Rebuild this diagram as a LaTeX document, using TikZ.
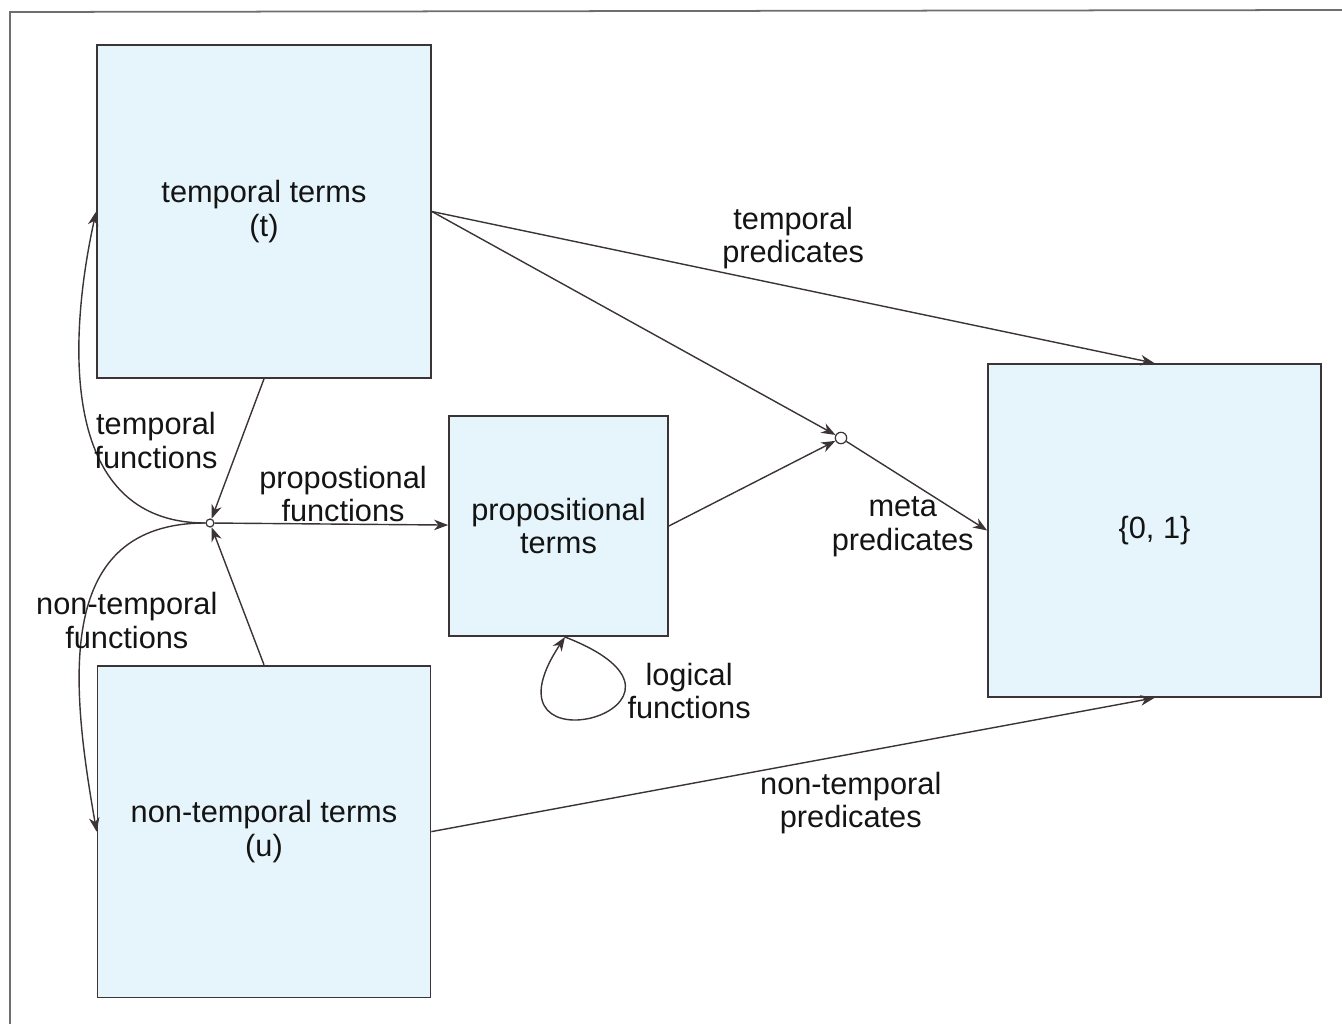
\documentclass[tikz,border=0pt]{standalone}
\usepackage{fontspec}
\setmainfont{Liberation Sans}
\usetikzlibrary{arrows.meta}
\usetikzlibrary{positioning,shapes}

\definecolor{boxfill}{RGB}{230,245,252}
\definecolor{linegray}{RGB}{60,52,52}
\definecolor{framegray}{RGB}{110,110,110}

\begin{document}
\begin{tikzpicture} [->,>={Stealth[length=8pt,width=6pt,inset=2.5pt]},x=0.02cm,y=-0.02cm,line width=0.8pt,
  font=\fontsize{17.5}{19}\selectfont,
  termbox/.style={rectangle, draw=linegray, line width=1pt, fill=boxfill, align=center, text=black!92},
  junction/.style={circle, draw=linegray, fill=white, inner sep=0pt, line width=0.7pt},
  every edge/.style={draw=linegray},
  lbl/.style={align=center, inner sep=1pt, text=black!92}]

  \useasboundingbox (0,0) rectangle (1342,1024);
  \draw[-, framegray, line width=1pt] (10,1024) -- (10,12) -- (1342,10);

  \node[termbox] (1) [minimum width=66.8mm, minimum height=66.6mm] at (264,211.5) {temporal terms\\(t)};
  \node[termbox] (2) [minimum width=66.6mm, minimum height=66.4mm, below=57.2mm of 1] {non-temporal terms\\(u)};
  \node[termbox] (3) [minimum width=43.8mm, minimum height=44mm] at (558.5,526) {propositional\\terms};
  \node[termbox] (4) [minimum width=66.6mm, minimum height=66.6mm] at (1154.5,530.5) {\{0, 1\}};

  \node[junction, minimum size=4.5pt] (5) at (210,523) {};
  \node[junction, minimum size=6.5pt] (6) at (841,438) {};

  \path
    (1.south) edge (5)
    (2.north) edge (5)
    (5) edge node [lbl, pos=0.55, above] {propostional\\functions} (3)
    (1.east) edge node [lbl, pos=0.5, above=9pt] {temporal\\predicates} (4.north)
    (1.east) edge (6)
    (3.east) edge (6)
    (6) edge node [lbl, pos=0.4, below=10pt] {meta\\predicates} (4.west)
    (2.east) edge node [lbl, pos=0.58, below=9pt] {non-temporal\\predicates} (4.south);

  % curved functions out of the junction
  \draw[linegray] (5) .. controls (55,523) and (70,330) .. node [lbl, pos=0.42, right] {temporal\\functions} (1.west);
  \draw[linegray] (5) .. controls (55,523) and (70,680) .. node [lbl, pos=0.5, xshift=24pt] {non-temporal\\functions} (2.west);

  % self loop under the propositional terms
  \coordinate (lp) at (565,637);
  \draw[linegray] (lp) .. controls (740,705) and (470,780) .. node [lbl, pos=0.28, right] {logical\\functions} (lp);

\end{tikzpicture}
\end{document}
